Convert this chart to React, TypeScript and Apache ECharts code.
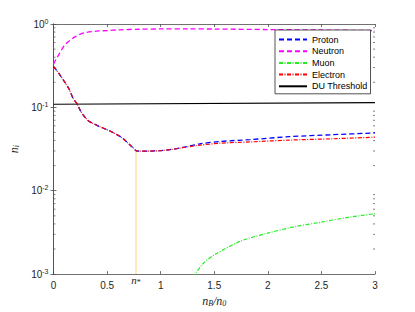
import React, { useEffect, useRef } from "react";
import * as echarts from "echarts";

const xTicks = [0, 0.5, 1, 1.5, 2, 2.5, 3];
const nStar = 0.77;

const neutronX = [0, 0.03, 0.06, 0.1, 0.15, 0.2, 0.25, 0.3, 0.4, 0.5, 0.6, 0.8, 1.0, 1.25, 1.5, 2.0, 2.5, 3.0];
const neutronY = [0.33, 0.39, 0.45, 0.55, 0.63, 0.7, 0.755, 0.79, 0.82, 0.835, 0.85, 0.865, 0.872, 0.873, 0.87, 0.858, 0.847, 0.835];

const electronX = [0, 0.05, 0.1, 0.145, 0.185, 0.222, 0.25, 0.278, 0.31, 0.34, 0.434, 0.527, 0.636, 0.698, 0.74, 0.77, 0.81, 0.9, 0.99, 1.1, 1.18, 1.367, 1.553, 1.833, 2.2, 2.6, 3.0];
const electronY = [0.31, 0.255, 0.205, 0.166, 0.127, 0.109, 0.092, 0.0805, 0.072, 0.067, 0.0586, 0.052, 0.0435, 0.037, 0.033, 0.0303, 0.0298, 0.0299, 0.0302, 0.0313, 0.0325, 0.0352, 0.0372, 0.0385, 0.0405, 0.042, 0.0439];

const protonX = [0, 0.05, 0.1, 0.145, 0.185, 0.222, 0.25, 0.278, 0.31, 0.34, 0.434, 0.527, 0.636, 0.698, 0.74, 0.77, 0.81, 0.9, 0.99, 1.1, 1.18, 1.367, 1.553, 1.833, 2.2, 2.6, 3.0];
const protonY = [0.31, 0.255, 0.205, 0.166, 0.127, 0.109, 0.092, 0.0805, 0.072, 0.067, 0.0586, 0.052, 0.0435, 0.037, 0.033, 0.0303, 0.0298, 0.0299, 0.0302, 0.0313, 0.0325, 0.0365, 0.039, 0.041, 0.0445, 0.047, 0.0493];

const muonX = [1.3, 1.32, 1.4, 1.5, 1.75, 2.0, 2.25, 2.5, 2.75, 3.0];
const muonY = [0.00092, 0.001, 0.00135, 0.0017, 0.0025, 0.0031, 0.0037, 0.0042, 0.0048, 0.0053];

const duX = [0, 3];
const duY = [0.109, 0.114];

const nStarTop = 0.0303;
const yMin = 0.001;
const yMax = 1;
const minorTickValues: number[] = [];
[0.001, 0.01, 0.1].forEach((d) => {
  for (let k = 2; k <= 9; k++) minorTickValues.push(d * k);
});

const zip = (xs: number[], ys: number[]) => xs.map((x, i) => [x, ys[i]]);

const axisColor = "#4d4d4d";
const textColor = "#262626";
const font = "Liberation Sans, Arial, sans-serif";
const mathFont = "Liberation Serif, DejaVu Serif, serif";

export default function App() {
  const ref = useRef<HTMLDivElement>(null);
  useEffect(() => {
    if (!ref.current) return;
    const chart = echarts.init(ref.current, undefined, { renderer: "svg" });
    const option: any = {
      animation: false,
      backgroundColor: "#fff",
      grid: { left: 53.5, right: 40, top: 24, bottom: 34 },
      legend: {
        orient: "vertical",
        left: 275,
        top: 30,
        data: ["Proton", "Neutron", "Muon", "Electron", "DU Threshold"],
        backgroundColor: "#fff",
        borderColor: "#262626",
        borderWidth: 0.8,
        padding: [4, 3, 2, 3],
        itemWidth: 28,
        itemHeight: 1,
        itemGap: 0.7,
        textStyle: { fontSize: 9, lineHeight: 11, color: "#000", fontFamily: font },
      },
      xAxis: [
        {
          type: "value",
          min: 0,
          max: 3,
          interval: 0.5,
          name: "{n|n}{s|B}{n|/n}{s|0}",
          nameLocation: "middle",
          nameGap: 15,
          nameTextStyle: {
            rich: {
              n: { fontFamily: mathFont, fontStyle: "italic", fontSize: 12, color: textColor },
              s: { fontFamily: mathFont, fontStyle: "italic", fontSize: 8, color: textColor, verticalAlign: "bottom", padding: [4, 0, 0, 0] },
            },
          },
          axisLine: { show: true, lineStyle: { color: axisColor, width: 0.8 } },
          axisTick: { show: true, inside: true, length: 3, lineStyle: { color: axisColor, width: 0.8 } },
          axisLabel: {
            color: textColor,
            fontSize: 10,
            fontFamily: font,
            margin: 6,
            formatter: (v: number) => (xTicks.includes(v) ? String(v) : ""),
          },
          splitLine: { show: false },
        },
        {
          type: "value",
          position: "top",
          min: 0,
          max: 3,
          interval: 0.5,
          axisLine: { show: true, lineStyle: { color: axisColor, width: 0.8 } },
          axisTick: { show: true, inside: true, length: 3, lineStyle: { color: axisColor, width: 0.8 } },
          axisLabel: { show: false },
          splitLine: { show: false },
        },
      ],
      yAxis: [
        {
          type: "log",
          logBase: 10,
          min: yMin,
          max: yMax,
          name: "{n|n}{s|i}",
          nameLocation: "middle",
          nameGap: 23,
          nameRotate: 90,
          nameTextStyle: {
            rich: {
              n: { fontFamily: mathFont, fontStyle: "italic", fontSize: 12, color: textColor },
              s: { fontFamily: mathFont, fontStyle: "italic", fontSize: 8, color: textColor, verticalAlign: "bottom", padding: [4, 0, 0, 0] },
            },
          },
          axisLine: { show: true, lineStyle: { color: axisColor, width: 0.8 } },
          axisTick: { show: true, inside: true, length: 3, lineStyle: { color: axisColor, width: 0.8 } },
          axisLabel: {
            color: textColor,
            fontSize: 10,
            fontFamily: font,
            margin: 5,
            formatter: (v: number) => "10{e|" + Math.round(Math.log10(v)) + "}",
            rich: {
              e: { fontSize: 7, fontFamily: font, color: textColor, verticalAlign: "top", padding: [0, 0, 6, 0] },
            },
          },
          splitLine: { show: false },
        },
        {
          type: "log",
          logBase: 10,
          min: yMin,
          max: yMax,
          position: "right",
          axisLine: { show: true, lineStyle: { color: axisColor, width: 0.8 } },
          axisTick: { show: true, inside: true, length: 3, lineStyle: { color: axisColor, width: 0.8 } },
          axisLabel: { show: false },
          splitLine: { show: false },
        },
      ],
      series: [
        {
          name: "Minor",
          type: "custom",
          silent: true,
          data: minorTickValues.map((v) => [0, v]),
          renderItem: (params: any, api: any) => {
            const v = api.value(1);
            const pL = api.coord([0, v]);
            const pR = api.coord([3, v]);
            const st = { stroke: axisColor, lineWidth: 0.7 };
            return {
              type: "group",
              children: [
                { type: "line", shape: { x1: pL[0], y1: pL[1], x2: pL[0] + 2, y2: pL[1] }, style: st },
                { type: "line", shape: { x1: pR[0], y1: pR[1], x2: pR[0] - 2, y2: pR[1] }, style: st },
              ],
            };
          },
          z: 1,
        },
        {
          name: "Proton",
          type: "line",
          data: zip(protonX, protonY),
          symbol: "none",
          smooth: 0.3,
          lineStyle: { color: "#0000ff", width: 1.3, type: [5, 3] },
          itemStyle: { color: "#0000ff" },
          z: 3,
        },
        {
          name: "Neutron",
          type: "line",
          data: zip(neutronX, neutronY),
          symbol: "none",
          smooth: 0.3,
          lineStyle: { color: "#ff00ff", width: 1.3, type: [5, 3] },
          itemStyle: { color: "#ff00ff" },
          z: 3,
        },
        {
          name: "Muon",
          type: "line",
          data: zip(muonX, muonY),
          symbol: "none",
          smooth: 0.3,
          lineStyle: { color: "#22ee22", width: 1.2, type: [4, 1.5, 1, 1.5] },
          itemStyle: { color: "#22ee22" },
          z: 3,
        },
        {
          name: "Electron",
          type: "line",
          data: zip(electronX, electronY),
          symbol: "none",
          smooth: 0.3,
          lineStyle: { color: "#ff0000", width: 1.2, type: [4, 1.5, 1, 1.5] },
          itemStyle: { color: "#ff0000" },
          z: 4,
        },
        {
          name: "DU Threshold",
          type: "line",
          data: zip(duX, duY),
          symbol: "none",
          lineStyle: { color: "#000", width: 1.2, type: "solid" },
          itemStyle: { color: "#000" },
          z: 3,
        },
        {
          name: "nstar",
          type: "line",
          data: [
            [nStar, nStarTop],
            {
              value: [nStar, yMin],
              label: {
                show: true,
                position: "bottom",
                distance: -1,
                formatter: "{n|n}{s|*}",
                rich: {
                  n: { fontFamily: mathFont, fontStyle: "italic", fontSize: 11, color: textColor },
                  s: { fontFamily: mathFont, fontSize: 8, color: textColor, verticalAlign: "bottom", padding: [5, 0, 0, 0] },
                },
              },
            },
          ],
          symbol: "circle",
          symbolSize: 0,
          showSymbol: true,
          lineStyle: { color: "#ffa500", width: 1, type: [1, 1] },
          itemStyle: { color: "#ffa500" },
          z: 2,
        },
      ],
    };
    chart.setOption(option);
    return () => chart.dispose();
  }, []);
  return <div ref={ref} style={{ position: "absolute", left: 0, top: 0, width: 415, height: 312 }} />;
}
